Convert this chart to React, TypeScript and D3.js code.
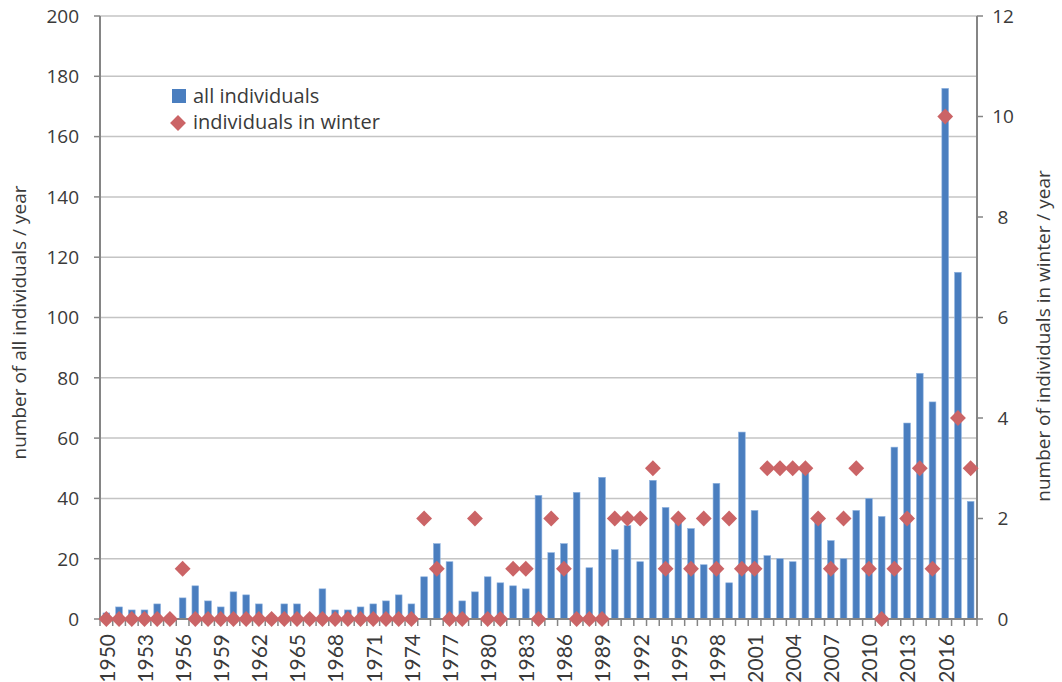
import { useEffect, useRef } from 'react';
import * as d3 from 'd3';

const years = d3.range(1950, 2019);

// number of all individuals per year
const allIndividuals = [
  2, 4, 3, 3, 5, 0, 7, 11, 6, 4,
  9, 8, 5, 0, 5, 5, 0, 10, 3, 3,
  4, 5, 6, 8, 5, 14, 25, 19, 6, 9,
  14, 12, 11, 10, 41, 22, 25, 42, 17, 47,
  23, 31, 19, 46, 37, 33, 30, 18, 45, 12,
  62, 36, 21, 20, 19, 49, 33, 26, 20, 36,
  40, 34, 57, 65, 81.5, 72, 176, 115, 39,
];

// number of individuals in winter per year
const winterIndividuals = [
  0, 0, 0, 0, 0, 0, 1, 0, 0, 0,
  0, 0, 0, 0, 0, 0, 0, 0, 0, 0,
  0, 0, 0, 0, 0, 2, 1, 0, 0, 2,
  0, 0, 1, 1, 0, 2, 1, 0, 0, 0,
  2, 2, 2, 3, 1, 2, 1, 2, 1, 2,
  1, 1, 3, 3, 3, 3, 2, 1, 2, 3,
  1, 0, 1, 2, 3, 1, 10, 4, 3,
];

const leftTicks = d3.range(0, 201, 20);
const rightTicks = d3.range(0, 13, 2);
const labelYears = years.filter((y) => (y - 1950) % 3 === 0);

const BAR = '#4a7ebf';
const DIAMOND = '#cb6466';
const TEXT = '#3a3a3a';
const AXIS = '#858585';
const FONT = '"Open Sans", Lato, sans-serif';
const XFONT = 'Lato, "Open Sans", sans-serif';

export default function App() {
  const svgRef = useRef<SVGSVGElement>(null);
  const width = 1062;
  const height = 682;

  useEffect(() => {
    if (!svgRef.current) return;
    const svg = d3.select(svgRef.current);
    svg.selectAll('*').remove();

    const margin = { top: 16, right: 85, bottom: 63, left: 100 };
    const x0 = margin.left;
    const x1 = width - margin.right;
    const y0 = height - margin.bottom;
    const y1 = margin.top;

    const xScale = d3
      .scaleBand<number>()
      .domain(years)
      .range([x0, x1])
      .padding(0);
    const step = xScale.step();
    const barW = step * 0.53;

    const yLeft = d3.scaleLinear().domain([0, 200]).range([y0, y1]);
    const yRight = d3.scaleLinear().domain([0, 12]).range([y0, y1]);

    // grid lines
    svg
      .append('g')
      .selectAll('line')
      .data(leftTicks.filter((t) => t > 0))
      .join('line')
      .attr('x1', x0)
      .attr('x2', x1)
      .attr('y1', (d) => yLeft(d))
      .attr('y2', (d) => yLeft(d))
      .attr('stroke', '#c4c4c4')
      .attr('stroke-width', 1.5);

    // bars
    svg
      .append('g')
      .selectAll('rect')
      .data(years)
      .join('rect')
      .attr('x', (d) => (xScale(d) as number) + (step - barW) / 2)
      .attr('width', barW)
      .attr('y', (d, i) => yLeft(allIndividuals[i]))
      .attr('height', (d, i) => y0 - yLeft(allIndividuals[i]))
      .attr('fill', BAR)
      .attr('stroke', '#8fb3e0')
      .attr('stroke-width', 0.6);

    // x axis line + ticks
    svg
      .append('line')
      .attr('x1', x0)
      .attr('x2', x1)
      .attr('y1', y0)
      .attr('y2', y0)
      .attr('stroke', AXIS)
      .attr('stroke-width', 2);
    svg
      .append('g')
      .selectAll('line')
      .data(d3.range(years.length + 1))
      .join('line')
      .attr('x1', (i) => x0 + i * step)
      .attr('x2', (i) => x0 + i * step)
      .attr('y1', y0)
      .attr('y2', y0 + 7)
      .attr('stroke', AXIS)
      .attr('stroke-width', 1.5);

    // x labels
    svg
      .append('g')
      .selectAll('text')
      .data(labelYears)
      .join('text')
      .attr(
        'transform',
        (d) => `translate(${(xScale(d) as number) + step / 2 + 1},${y0 + 15}) rotate(-90)`
      )
      .attr('text-anchor', 'end')
      .attr('dy', '0.35em')
      .attr('fill', TEXT)
      .attr('font-family', XFONT)
      .attr('font-size', 21)
      .text((d) => String(d));

    // left axis
    svg
      .append('line')
      .attr('x1', x0)
      .attr('x2', x0)
      .attr('y1', y1)
      .attr('y2', y0)
      .attr('stroke', AXIS)
      .attr('stroke-width', 2);
    const lt = svg.append('g').selectAll('g').data(leftTicks).join('g');
    lt.append('line')
      .attr('x1', x0 - 6)
      .attr('x2', x0)
      .attr('y1', (d) => yLeft(d))
      .attr('y2', (d) => yLeft(d))
      .attr('stroke', AXIS)
      .attr('stroke-width', 1.5);
    lt.append('text')
      .attr('x', 79)
      .attr('y', (d) => yLeft(d))
      .attr('dy', '0.36em')
      .attr('text-anchor', 'end')
      .attr('fill', TEXT)
      .attr('font-family', FONT)
      .attr('font-size', 19)
      .text((d) => String(d));

    // right axis
    svg
      .append('line')
      .attr('x1', x1)
      .attr('x2', x1)
      .attr('y1', y1)
      .attr('y2', y0)
      .attr('stroke', AXIS)
      .attr('stroke-width', 2);
    const rt = svg.append('g').selectAll('g').data(rightTicks).join('g');
    rt.append('line')
      .attr('x1', x1)
      .attr('x2', x1 + 6)
      .attr('y1', (d) => yRight(d))
      .attr('y2', (d) => yRight(d))
      .attr('stroke', AXIS)
      .attr('stroke-width', 1.5);
    rt.append('text')
      .attr('x', x1 + 26)
      .attr('y', (d) => yRight(d))
      .attr('dy', '0.36em')
      .attr('text-anchor', 'middle')
      .attr('fill', TEXT)
      .attr('font-family', FONT)
      .attr('font-size', 19)
      .text((d) => String(d));

    // diamonds
    const diamond = d3.symbol().type(d3.symbolDiamond2).size(160);
    svg
      .append('g')
      .selectAll('path')
      .data(years)
      .join('path')
      .attr('d', diamond)
      .attr(
        'transform',
        (d, i) =>
          `translate(${(xScale(d) as number) + step / 2},${yRight(winterIndividuals[i])})`
      )
      .attr('fill', DIAMOND);

    // axis titles
    svg
      .append('text')
      .attr('transform', `translate(19,${(y0 + y1) / 2 + 5}) rotate(-90)`)
      .attr('text-anchor', 'middle')
      .attr('dy', '0.35em')
      .attr('fill', TEXT)
      .attr('font-family', FONT)
      .attr('font-size', 19)
      .text('number of all individuals / year');
    svg
      .append('text')
      .attr('transform', `translate(1043,336) rotate(-90)`)
      .attr('text-anchor', 'middle')
      .attr('dy', '0.35em')
      .attr('fill', TEXT)
      .attr('font-family', FONT)
      .attr('font-size', 19)
      .text('number of individuals in winter / year');

    // legend
    const legend = svg.append('g');
    legend
      .append('rect')
      .attr('x', 172)
      .attr('y', 89)
      .attr('width', 14)
      .attr('height', 14)
      .attr('fill', BAR);
    legend
      .append('text')
      .attr('x', 193)
      .attr('y', 96)
      .attr('dy', '0.35em')
      .attr('fill', TEXT)
      .attr('font-family', FONT)
      .attr('font-size', 20)
      .text('all individuals');
    legend
      .append('path')
      .attr('d', diamond)
      .attr('transform', 'translate(178,123)')
      .attr('fill', DIAMOND);
    legend
      .append('text')
      .attr('x', 193)
      .attr('y', 122)
      .attr('dy', '0.35em')
      .attr('fill', TEXT)
      .attr('font-family', FONT)
      .attr('font-size', 20)
      .text('individuals in winter');
  }, []);

  return (
    <div style={{ position: 'absolute', left: 0, top: 0, background: '#fff' }}>
      <svg ref={svgRef} width={width} height={height} style={{ display: 'block' }} />
    </div>
  );
}
